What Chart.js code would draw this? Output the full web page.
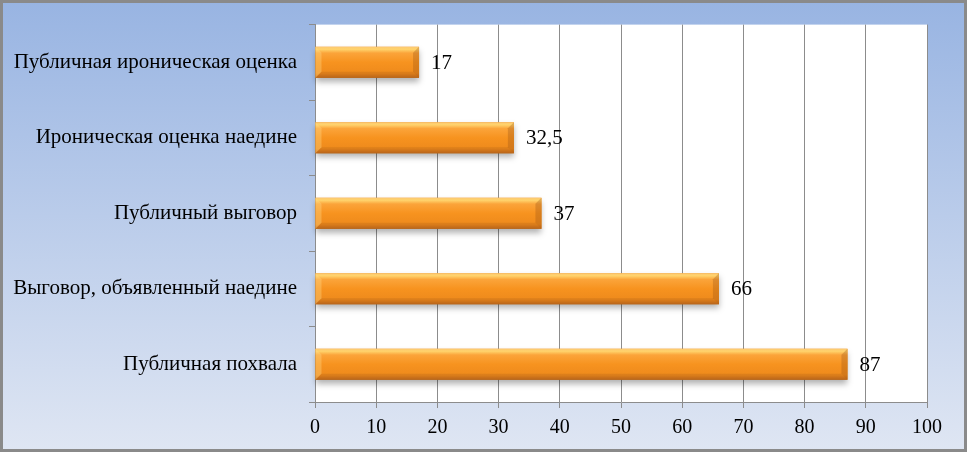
<!DOCTYPE html>
<html>
<head>
<meta charset="utf-8">
<script src="https://cdn.jsdelivr.net/npm/chart.js@4"></script>
<style>
   html, body { margin: 0; padding: 0; }
   #wrap { width: 967px; height: 452px; }
</style>
</head>
<body>
<div id="wrap"><canvas id="graph" width="967" height="452"></canvas></div>
<script>
const categories = [
   "Публичная ироническая оценка",
   "Ироническая оценка наедине",
   "Публичный выговор",
   "Выговор, объявленный наедине",
   "Публичная похвала"
];
const values = [17, 32.5, 37, 66, 87];
const xTicks = [0, 10, 20, 30, 40, 50, 60, 70, 80, 90, 100];

const serif = "'Liberation Serif', 'Times New Roman', serif";
const gridGrey = "#8c8c8c";

const backdrop =
{
   id: "backdrop",
   beforeDraw(chart)
   {
      const ctx = chart.ctx;
      const w = chart.width, h = chart.height;
      const g = ctx.createLinearGradient(0, 0, 0, h);
      g.addColorStop(0, "#98b4e2");
      g.addColorStop(1, "#dfe6f3");
      ctx.save();
      ctx.fillStyle = g;
      ctx.fillRect(0, 0, w, h);
      const a = chart.chartArea;
      ctx.fillStyle = "#ffffff";
      ctx.fillRect(a.left, a.top, a.right - a.left, a.bottom - a.top);
      ctx.restore();
   },
   afterDraw(chart)
   {
      const ctx = chart.ctx;
      ctx.save();
      ctx.strokeStyle = "#8a8a8a";
      ctx.lineWidth = 3;
      ctx.strokeRect(1.5, 1.5, chart.width - 3, chart.height - 3);
      ctx.restore();
   }
};

const barGloss =
{
   id: "barGloss",
   afterDatasetsDraw(chart)
   {
      const ctx = chart.ctx;
      const meta = chart.getDatasetMeta(0);
      ctx.save();
      meta.data.forEach((bar, i) =>
      {
         const top = bar.y - bar.height / 2;
         const h = bar.height;
         const left = Math.min(bar.base, bar.x);
         const w = Math.abs(bar.x - bar.base);

         ctx.save();
         ctx.shadowColor = "rgba(0,0,0,0.3)";
         ctx.shadowBlur = 6;
         ctx.shadowOffsetY = 4;
         const g = ctx.createLinearGradient(0, top, 0, top + h);
         g.addColorStop(0, "#fcc870");
         g.addColorStop(0.08, "#ffd36c");
         g.addColorStop(0.2, "#fba43a");
         g.addColorStop(0.5, "#f7931f");
         g.addColorStop(0.85, "#ee8a1c");
         g.addColorStop(1, "#c26a1c");
         ctx.fillStyle = g;
         ctx.fillRect(left, top, w, h);
         ctx.restore();

         // bevel edges
         const b = 6;
         ctx.fillStyle = "rgba(255,220,140,0.35)";
         ctx.beginPath();
         ctx.moveTo(left, top);
         ctx.lineTo(left + b, top + b);
         ctx.lineTo(left + b, top + h - b);
         ctx.lineTo(left, top + h);
         ctx.closePath();
         ctx.fill();
         ctx.fillStyle = "rgba(150,80,20,0.3)";
         ctx.beginPath();
         ctx.moveTo(left + w, top);
         ctx.lineTo(left + w, top + h);
         ctx.lineTo(left + w - b, top + h - b);
         ctx.lineTo(left + w - b, top + b);
         ctx.closePath();
         ctx.fill();
         ctx.fillStyle = "rgba(150,80,20,0.2)";
         ctx.beginPath();
         ctx.moveTo(left, top + h);
         ctx.lineTo(left + w, top + h);
         ctx.lineTo(left + w - b, top + h - b);
         ctx.lineTo(left + b, top + h - b);
         ctx.closePath();
         ctx.fill();

         // value label
         ctx.fillStyle = "#000000";
         ctx.font = "21px " + serif;
         ctx.textAlign = "left";
         ctx.textBaseline = "middle";
         ctx.fillText(String(values[i]).replace(".", ","), bar.x + 12, bar.y + 1);
      });
      ctx.restore();
   }
};

new Chart(document.getElementById("graph").getContext("2d"),
{
   type: "bar",
   data:
   {
      labels: categories,
      datasets:
      [{
         data: values,
         backgroundColor: "#f7931e",
         borderWidth: 0,
         barPercentage: 0.41,
         categoryPercentage: 1
      }]
   },
   options:
   {
      indexAxis: "y",
      animation: false,
      responsive: false,
      layout:
      {
         padding: { top: 23, right: 40, bottom: 0, left: 0 }
      },
      scales:
      {
         x:
         {
            min: 0,
            max: 100,
            afterBuildTicks: (scale) =>
            {
               scale.ticks = xTicks.map(v => ({ value: v }));
            },
            afterFit: (scale) =>
            {
               scale.height = 50;
            },
            grid:
            {
               color: gridGrey,
               tickLength: 6
            },
            border:
            {
               color: gridGrey
            },
            ticks:
            {
               color: "#000000",
               padding: 8,
               maxRotation: 0,
               font: { family: serif, size: 20 }
            }
         },
         y:
         {
            afterFit: (scale) =>
            {
               scale.width = 315;
            },
            grid:
            {
               color: gridGrey,
               drawOnChartArea: false,
               tickLength: 6,
               offset: true
            },
            border:
            {
               color: gridGrey
            },
            ticks:
            {
               color: "#000000",
               padding: 12,
               font: { family: serif, size: 21 }
            }
         }
      },
      plugins:
      {
         legend: { display: false },
         tooltip: { enabled: false }
      }
   },
   plugins: [backdrop, barGloss]
});
</script>
</body>
</html>
